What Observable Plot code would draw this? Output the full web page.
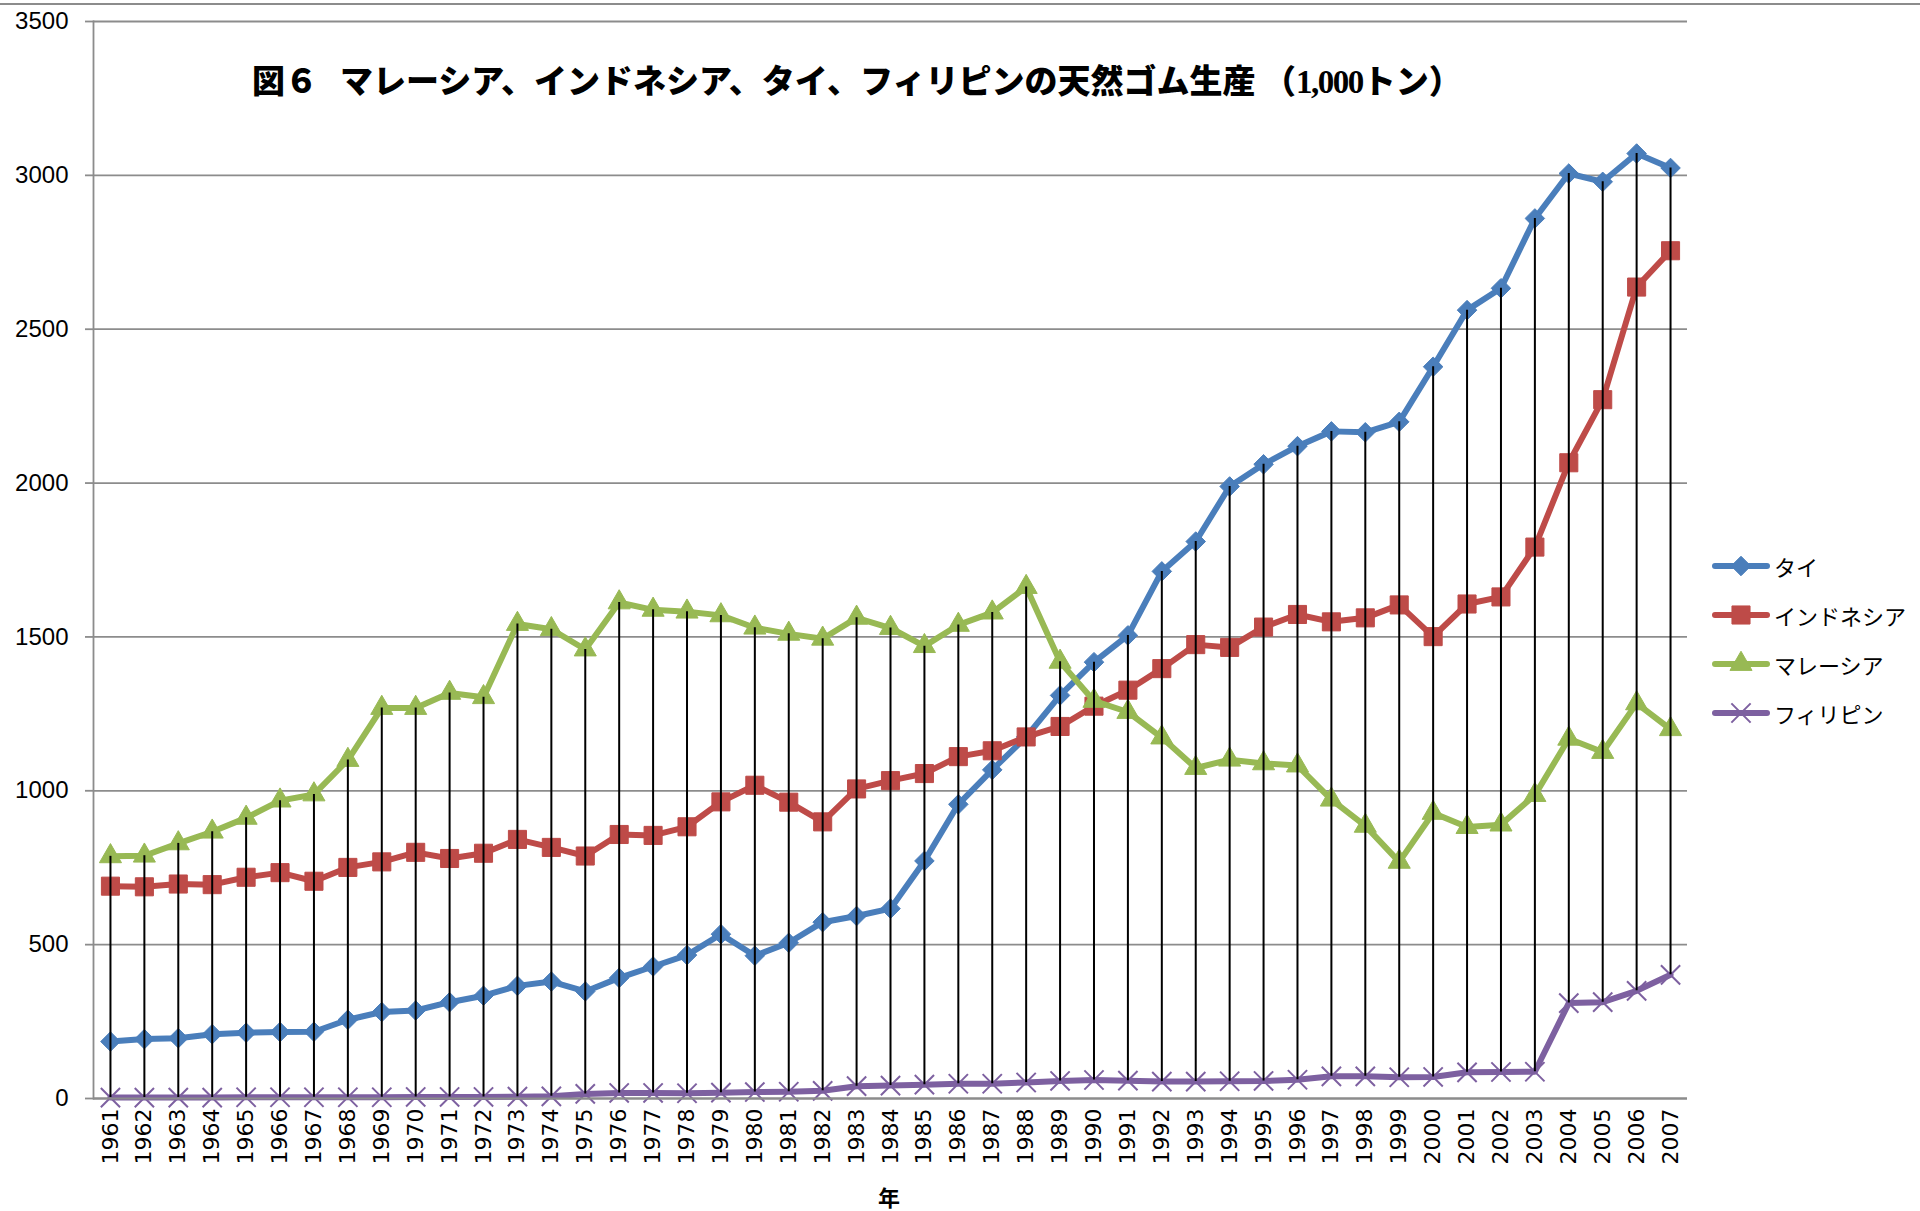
<!DOCTYPE html>
<html>
<head>
<meta charset="utf-8">
<script src="https://cdn.jsdelivr.net/npm/d3@7"></script>
<script src="https://cdn.jsdelivr.net/npm/@observablehq/plot@0.6"></script>
<style>
  html, body { margin: 0; padding: 0; background: #fff; }
  #wrap { position: relative; width: 1920px; height: 1211px; overflow: hidden; background: #fff; }
  #topline { position: absolute; left: 0; top: 3px; width: 1920px; height: 0; border-top: 2px solid #8c8c8c; }
  #title { position: absolute; left: 252px; top: 58px; font-family: "Noto Sans CJK JP", sans-serif; font-weight: 900; font-size: 33px; line-height: 42px; color: #000; white-space: nowrap; z-index: 2; }
  #title .num { font-family: "Liberation Serif", serif; font-weight: bold; letter-spacing: -1.5px; }
  #title .gap { display: inline-block; width: 22px; }
  #xlabel { position: absolute; left: 878px; top: 1182px; font-family: "Noto Sans CJK JP", sans-serif; font-weight: bold; font-size: 22px; line-height: 28px; color: #000; }
  #legend { position: absolute; left: 1712px; top: 541px; font-family: "Noto Sans CJK JP", sans-serif; font-size: 22px; color: #000; z-index: 2; }
  .lrow { display: flex; align-items: center; height: 49px; }
  .lrow svg { margin-right: 4px; }
  #chart { position: absolute; left: 0; top: 0; }
</style>
</head>
<body>
<div id="wrap">
  <div id="chart"></div>
  <div id="topline"></div>
  <div id="title">図６<span class="gap"></span>マレーシア、インドネシア、タイ、フィリピンの天然ゴム生産 （<span class="num">1,000</span>トン）</div>
  <div id="xlabel">年</div>
  <div id="legend"></div>
</div>
<script>
// ---- data ----
const years = ["1961","1962","1963","1964","1965","1966","1967","1968","1969","1970",
  "1971","1972","1973","1974","1975","1976","1977","1978","1979","1980",
  "1981","1982","1983","1984","1985","1986","1987","1988","1989","1990",
  "1991","1992","1993","1994","1995","1996","1997","1998","1999","2000",
  "2001","2002","2003","2004","2005","2006","2007"];

const thailand = [185,193,196,209,214,216,217,256,281,286,
  313,334,366,380,348,392,429,466,534,464,
  506,573,593,617,772,956,1068,1175,1310,1418,
  1505,1713,1810,1989,2061,2120,2168,2165,2199,2378,
  2562,2633,2860,3006,2979,3071,3024];

const indonesia = [690,688,697,695,719,734,706,751,769,800,
  780,797,842,816,788,858,855,883,964,1018,
  963,899,1006,1033,1056,1111,1130,1175,1209,1275,
  1327,1397,1475,1466,1532,1573,1549,1562,1604,1501,
  1607,1630,1792,2066,2271,2637,2755];

const malaysia = [787,789,829,867,912,968,988,1100,1269,1269,
  1318,1304,1542,1525,1459,1612,1588,1582,1570,1530,
  1510,1494,1562,1529,1470,1539,1579,1662,1419,1292,
  1256,1173,1074,1101,1089,1082,971,886,769,928,
  882,890,986,1169,1126,1284,1200];

const philippines = [3,3,3,3,4,4,4,4,4,5,
  5,5,6,7,15,18,18,17,19,21,
  22,25,40,42,45,48,48,52,57,60,
  58,55,55,56,57,61,72,72,69,70,
  85,86,87,310,313,350,402];

const seriesNames = ["タイ", "インドネシア", "マレーシア", "フィリピン"];
const seriesColors = ["#4A7EBB", "#BE4B48", "#98B954", "#7D60A0"];
const seriesSymbols = ["diamond2", "square", "triangle", "times"];
const yTicks = [0, 500, 1000, 1500, 2000, 2500, 3000, 3500];

// ---- derived tables ----
const seriesValues = [thailand, indonesia, malaysia, philippines];
const series = seriesNames.map((name, k) => ({
  name, color: seriesColors[k], symbol: seriesSymbols[k],
  rows: years.map((year, i) => ({year, value: seriesValues[k][i]}))
}));
const highLow = years.map((year, i) => {
  const vals = seriesValues.map(s => s[i]);
  return {year, lo: Math.min(...vals), hi: Math.max(...vals)};
});

const symbolR = {diamond2: 8.8, square: 10.2, triangle: 8.2, times: 8.8};

const marks = [
  Plot.gridY(yTicks, {stroke: "#8c8c8c", strokeOpacity: 1, strokeWidth: 1.8}),
  Plot.axisY(yTicks, {tickSize: 8, tickPadding: 17, fontSize: 24, fontFamily: "Liberation Sans, sans-serif",
    color: "#000", stroke: "#8c8c8c", strokeWidth: 1.8, label: null, tickFormat: d => String(d)}),
  Plot.axisX(years, {tickRotate: -90, tickSize: 0, tickPadding: 10, fontSize: 22,
    fontFamily: "DejaVu Sans, sans-serif", color: "#000", label: null})
];
series.forEach(s => {
  marks.push(Plot.line(s.rows, {x: "year", y: "value", stroke: s.color, strokeWidth: 6,
    strokeLinejoin: "round", strokeLinecap: "round"}));
  if (s.symbol === "times") {
    marks.push(Plot.dot(s.rows, {x: "year", y: "value", symbol: s.symbol, r: symbolR[s.symbol],
      stroke: s.color, strokeWidth: 2, fill: "none"}));
  } else {
    marks.push(Plot.dot(s.rows, {x: "year", y: "value", symbol: s.symbol, r: symbolR[s.symbol],
      fill: s.color, stroke: s.color, strokeWidth: 1}));
  }
});
marks.push(Plot.ruleX(highLow, {x: "year", y1: "lo", y2: "hi", stroke: "#000", strokeWidth: 2}));
marks.push(Plot.frame({anchor: "left", stroke: "#8c8c8c", strokeWidth: 1.8}));
marks.push(Plot.ruleY([0], {stroke: "#8c8c8c", strokeWidth: 1.8}));

const chart = Plot.plot({
  width: 1920,
  height: 1211,
  marginLeft: 93,
  marginRight: 233,
  marginTop: 21,
  marginBottom: 113,
  style: {background: "transparent", overflow: "visible"},
  x: {type: "point", domain: years, padding: 0.5, axis: null},
  y: {domain: [0, 3500], axis: null},
  marks
});
document.getElementById("chart").appendChild(chart);

// ---- legend ----
const legend = document.getElementById("legend");
const symMap = {diamond2: d3.symbolDiamond2, square: d3.symbolSquare, triangle: d3.symbolTriangle, times: d3.symbolTimes};
series.forEach(s => {
  const row = document.createElement("div");
  row.className = "lrow";
  const svg = d3.create("svg").attr("width", 58).attr("height", 26);
  svg.append("line").attr("x1", 3).attr("x2", 55).attr("y1", 13).attr("y2", 13)
    .attr("stroke", s.color).attr("stroke-width", 6).attr("stroke-linecap", "round");
  const size = Math.PI * symbolR[s.symbol] * symbolR[s.symbol];
  const p = svg.append("path").attr("transform", "translate(29,13)").attr("d", d3.symbol(symMap[s.symbol], size)());
  if (s.symbol === "times") p.attr("fill", "none").attr("stroke", s.color).attr("stroke-width", 2);
  else p.attr("fill", s.color).attr("stroke", s.color);
  row.appendChild(svg.node());
  const t = document.createElement("span");
  t.textContent = s.name;
  row.appendChild(t);
  legend.appendChild(row);
});
</script>
</body>
</html>
